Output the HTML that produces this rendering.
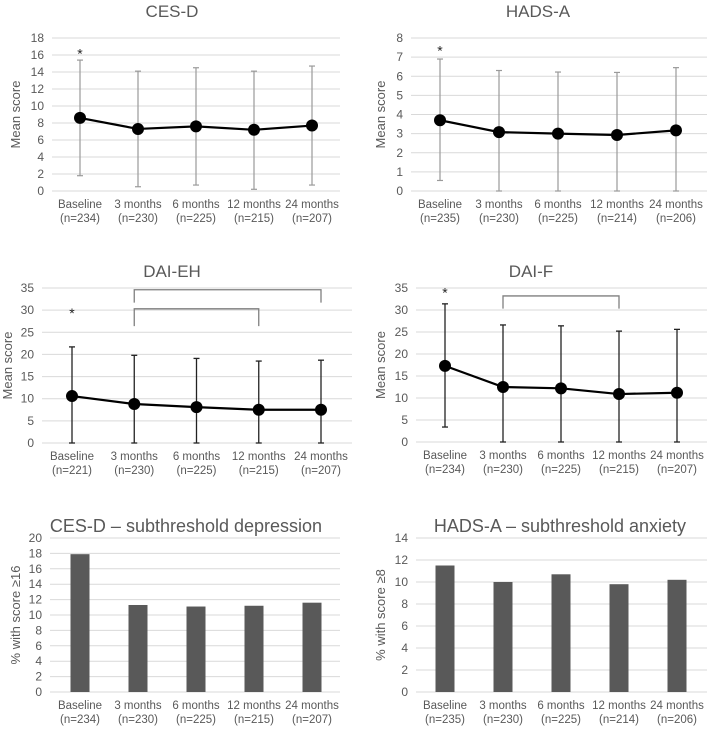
<!DOCTYPE html>
<html><head><meta charset="utf-8"><style>
html,body{margin:0;padding:0;background:#fff;}
svg{display:block;font-family:"Liberation Sans",sans-serif;}
</style></head><body>
<svg id="c" width="709" height="731" viewBox="0 0 709 731"></svg>
<script>
const categories=["Baseline","3 months","6 months","12 months","24 months"];
const cesdN=["(n=234)","(n=230)","(n=225)","(n=215)","(n=207)"];
const hadsN=["(n=235)","(n=230)","(n=225)","(n=214)","(n=206)"];
const daiehN=["(n=221)","(n=230)","(n=225)","(n=215)","(n=207)"];
const daifN=["(n=234)","(n=230)","(n=225)","(n=215)","(n=207)"];
const cesdMean=[8.6,7.3,7.6,7.2,7.7];
const cesdHi=[15.4,14.1,14.5,14.1,14.7];
const cesdLo=[1.8,0.5,0.7,0.2,0.7];
const hadsMean=[3.7,3.08,3.0,2.93,3.17];
const hadsHi=[6.9,6.3,6.22,6.2,6.45];
const hadsLo=[0.55,0,0,0,0];
const daiehMean=[10.6,8.8,8.1,7.5,7.5];
const daiehHi=[21.7,19.8,19.1,18.5,18.7];
const daiehLo=[0,0,0,0,0];
const daifMean=[17.3,12.5,12.2,10.9,11.2];
const daifHi=[31.4,26.6,26.4,25.2,25.6];
const daifLo=[3.4,0,0,0,0];
const cesdPct=[17.9,11.3,11.1,11.2,11.6];
const hadsPct=[11.5,10.0,10.7,9.8,10.2];
const cesdTicks=[0,2,4,6,8,10,12,14,16,18];
const hadsTicks=[0,1,2,3,4,5,6,7,8];
const daiTicks=[0,5,10,15,20,25,30,35];
const cesdPctTicks=[0,2,4,6,8,10,12,14,16,18,20];
const hadsPctTicks=[0,2,4,6,8,10,12,14];

const S=document.getElementById('c');
const NS="http://www.w3.org/2000/svg";
function mk(tag,attrs,parent,name,txt){
  const e=document.createElementNS(NS,tag);
  for(const k in attrs)e.setAttribute(k,attrs[k]);
  
  
  if(txt!==undefined)e.textContent=txt;
  (parent||S).appendChild(e);return e;
}
function panel(o){
  const g=mk('g',{},S,o.name);
  const ymax=o.ticks[o.ticks.length-1];
  const y=v=>o.y0-(v/ymax)*(o.y0-o.yTop);
  const x=i=>o.xs[0]+i*(o.xs[1]-o.xs[0])/4;
  mk('text',{x:o.tx,y:o.ty,'text-anchor':'middle','font-size':o.tfs,fill:'#595959'},g,'chart-title',o.title);
  o.ticks.forEach(t=>{
    mk('line',{x1:o.left,x2:o.right,y1:y(t),y2:y(t),stroke:'#d9d9d9','stroke-width':1},g,'gridline');
    mk('text',{x:o.left-8,y:y(t)+4,'text-anchor':'end','font-size':12,fill:'#595959'},g,'y-tick-label',String(t));
  });
  mk('text',{x:o.ytx,y:(o.y0+o.yTop)/2,'text-anchor':'middle','font-size':13,fill:'#595959',transform:`rotate(-90 ${o.ytx} ${(o.y0+o.yTop)/2})`},g,'y-axis-title',o.ytitle);
  categories.forEach((c,i)=>{
    mk('text',{x:x(i),y:o.y0+17,'text-anchor':'middle','font-size':11.5,fill:'#595959'},g,'x-tick-label',c);
    mk('text',{x:x(i),y:o.y0+31,'text-anchor':'middle','font-size':11.5,fill:'#595959'},g,'x-tick-n',o.ns[i]);
  });
  if(o.bars){
    o.bars.forEach((v,i)=>{
      mk('rect',{x:x(i)-9.5,y:y(v),width:19,height:o.y0-y(v),fill:'#595959'},g,'bar-'+i);
    });
  } else {
    const ec=o.ecol;
    o.mean.forEach((v,i)=>{
      mk('line',{x1:x(i),x2:x(i),y1:y(o.hi[i]),y2:y(o.lo[i]),stroke:ec,'stroke-width':o.ew},g,'error-bar');
      mk('line',{x1:x(i)-3,x2:x(i)+3,y1:y(o.hi[i]),y2:y(o.hi[i]),stroke:ec,'stroke-width':o.ew},g,'error-cap');
      mk('line',{x1:x(i)-3,x2:x(i)+3,y1:y(o.lo[i]),y2:y(o.lo[i]),stroke:ec,'stroke-width':o.ew},g,'error-cap');
    });
    mk('polyline',{points:o.mean.map((v,i)=>x(i)+','+y(v)).join(' '),fill:'none',stroke:'#000','stroke-width':2.2},g,'mean-line');
    o.mean.forEach((v,i)=>mk('circle',{cx:x(i),cy:y(v),r:6,fill:'#000'},g,'mean-point'));
  }
  if(o.star)mk('text',{x:x(0),y:y(o.star)+6,'text-anchor':'middle','font-size':14,fill:'#222'},g,'significance-star','*');
  (o.brackets||[]).forEach(b=>{
    mk('path',{d:`M${x(b[0])},${y(b[3])} V${y(b[2])} H${x(b[1])} V${y(b[3])}`,fill:'none',stroke:'#7f7f7f','stroke-width':1.3},g,'significance-bracket');
  });
}
panel({name:'cesd-chart',title:'CES-D',tx:172,ty:17,tfs:17,ticks:cesdTicks,y0:191,yTop:38,left:52,right:340,xs:[80,312],ytx:20,ytitle:'Mean score',ns:cesdN,mean:cesdMean,hi:cesdHi,lo:cesdLo,ecol:'#9a9a9a',ew:1.2,star:16.3});
panel({name:'hads-a-chart',title:'HADS-A',tx:538,ty:17,tfs:17,ticks:hadsTicks,y0:191,yTop:38,left:411,right:707,xs:[440,676],ytx:385,ytitle:'Mean score',ns:hadsN,mean:hadsMean,hi:hadsHi,lo:hadsLo,ecol:'#9a9a9a',ew:1.2,star:7.4});
panel({name:'dai-eh-chart',title:'DAI-EH',tx:172,ty:277,tfs:17,ticks:daiTicks,y0:443,yTop:288,left:42,right:352,xs:[72,321],ytx:12,ytitle:'Mean score',ns:daiehN,mean:daiehMean,hi:daiehHi,lo:daiehLo,ecol:'#222',ew:1.3,star:29.6,brackets:[[1,4,34.6,31.7],[1,3,30.3,26.4]]});
panel({name:'dai-f-chart',title:'DAI-F',tx:531,ty:277,tfs:17,ticks:daiTicks,y0:442,yTop:288,left:416,right:707,xs:[445,677],ytx:385,ytitle:'Mean score',ns:daifN,mean:daifMean,hi:daifHi,lo:daifLo,ecol:'#222',ew:1.3,star:34.2,brackets:[[1,3,33.2,30.3]]});
panel({name:'cesd-subthreshold-chart',title:'CES-D – subthreshold depression',tx:186,ty:532,tfs:18,ticks:cesdPctTicks,y0:692,yTop:538,left:50,right:340,xs:[80,312],ytx:20,ytitle:'% with score ≥16',ns:cesdN,bars:cesdPct});
panel({name:'hads-a-subthreshold-chart',title:'HADS-A – subthreshold anxiety',tx:560,ty:532,tfs:18,ticks:hadsPctTicks,y0:692,yTop:538,left:416,right:707,xs:[445,677],ytx:385,ytitle:'% with score ≥8',ns:hadsN,bars:hadsPct});
</script>
</body></html>
